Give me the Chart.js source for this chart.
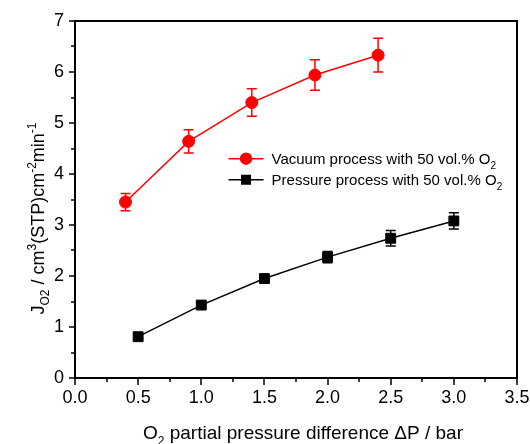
<!DOCTYPE html>
<html><head><meta charset="utf-8">
<script src="https://cdn.jsdelivr.net/npm/chart.js@4/dist/chart.umd.min.js"></script>
<style>html,body{margin:0;padding:0;background:#fff}</style>
</head><body>
<canvas id="c" width="530" height="444"></canvas>
<script>
// ---- data ----
const vacuumX = [0.4, 0.9, 1.4, 1.9, 2.4];
const vacuumY = [3.45, 4.64, 5.40, 5.94, 6.33];
const vacuumErr = [0.17, 0.23, 0.27, 0.30, 0.33];
const pressureX = [0.5, 1.0, 1.5, 2.0, 2.5, 3.0];
const pressureY = [0.81, 1.43, 1.95, 2.37, 2.74, 3.08];
const pressureErr = [0.05, 0.06, 0.07, 0.11, 0.15, 0.16];
const xTickValues = [0, 0.5, 1.0, 1.5, 2.0, 2.5, 3.0, 3.5];
const xTickLabels = ['0.0', '0.5', '1.0', '1.5', '2.0', '2.5', '3.0', '3.5'];
const yTickValues = [0, 1, 2, 3, 4, 5, 6, 7];
const yTickLabels = ['0', '1', '2', '3', '4', '5', '6', '7'];
const seriesNames = [
  [{t:'Vacuum process with 50 vol.% O'},{t:'2',s:'sub'}],
  [{t:'Pressure process with 50 vol.% O'},{t:'2',s:'sub'}]
];
const xTitle = [{t:'O'},{t:'2',s:'sub'},{t:' partial pressure difference \u0394P / bar'}];
const yTitle = [{t:'J'},{t:'O2',s:'sub'},{t:' / cm'},{t:'3',s:'sup'},{t:'(STP)cm'},{t:'-2',s:'sup'},{t:'min'},{t:'-1',s:'sup'}];

const FONT = '"Liberation Sans", Arial, sans-serif';

function richWidth(ctx, parts, size) {
  let w = 0;
  for (const p of parts) {
    ctx.font = (p.s ? Math.round(size*0.65) : size) + 'px ' + FONT;
    w += ctx.measureText(p.t).width;
  }
  return w;
}
function richDraw(ctx, parts, x, y, size) {
  let cx = x;
  ctx.textBaseline = 'alphabetic';
  ctx.textAlign = 'left';
  for (const p of parts) {
    const fs = p.s ? Math.round(size*0.65) : size;
    ctx.font = fs + 'px ' + FONT;
    let dy = 0;
    if (p.s === 'sub') dy = size*0.3;
    if (p.s === 'sup') dy = -size*0.42;
    ctx.fillText(p.t, cx, y + dy);
    cx += ctx.measureText(p.t).width;
  }
}

const errorBars = {
  id: 'errorBars',
  beforeDatasetsDraw(chart) {
    const ctx = chart.ctx, xs = chart.scales.x, ys = chart.scales.y;
    const errs = [vacuumErr, pressureErr];
    chart.data.datasets.forEach((ds, di) => {
      ctx.save();
      ctx.strokeStyle = ds.borderColor;
      ctx.lineWidth = 1.5;
      ds.data.forEach((pt, i) => {
        const e = errs[di][i];
        const px = xs.getPixelForValue(pt.x);
        const top = ys.getPixelForValue(pt.y + e);
        const bot = ys.getPixelForValue(pt.y - e);
        ctx.beginPath();
        ctx.moveTo(px, top); ctx.lineTo(px, bot);
        ctx.moveTo(px - 5, top); ctx.lineTo(px + 5, top);
        ctx.moveTo(px - 5, bot); ctx.lineTo(px + 5, bot);
        ctx.stroke();
      });
      ctx.restore();
    });
  }
};

const frame = {
  id: 'frame',
  afterDraw(chart) {
    const ctx = chart.ctx, a = chart.chartArea, xs = chart.scales.x, ys = chart.scales.y;
    ctx.save();
    ctx.strokeStyle = '#000';
    ctx.lineWidth = 2;
    ctx.strokeRect(a.left, a.top, a.right - a.left, a.bottom - a.top);
    ctx.lineWidth = 1.5;
    ctx.beginPath();
    for (let v = 0; v <= 3.5001; v += 0.25) {
      const px = Math.round(xs.getPixelForValue(v));
      const major = Math.abs(v*2 - Math.round(v*2)) < 1e-6;
      ctx.moveTo(px, a.bottom); ctx.lineTo(px, a.bottom + (major ? 7 : 4));
    }
    for (let v = 0; v <= 7.0001; v += 0.5) {
      const py = Math.round(ys.getPixelForValue(v));
      const major = Math.abs(v - Math.round(v)) < 1e-6;
      ctx.moveTo(a.left, py); ctx.lineTo(a.left - (major ? 6 : 4), py);
    }
    ctx.stroke();

    // axis titles
    ctx.fillStyle = '#000';
    const xsz = 19;
    const xw = richWidth(ctx, xTitle, xsz);
    richDraw(ctx, xTitle, (a.left + a.right)/2 - xw/2 + 7, a.bottom + 61, xsz);
    const ysz = 18;
    const yw = richWidth(ctx, yTitle, ysz);
    ctx.translate(a.left - 31, (a.top + a.bottom)/2 + 19);
    ctx.rotate(-Math.PI/2);
    richDraw(ctx, yTitle, -yw/2, 0, ysz);
    ctx.restore();

    // legend
    ctx.save();
    const lx = xs.getPixelForValue(1.2) + 2, ly0 = ys.getPixelForValue(4.3);
    chart.data.datasets.forEach((ds, i) => {
      const ly = ly0 + i * 21;
      ctx.strokeStyle = ds.borderColor; ctx.fillStyle = ds.backgroundColor;
      ctx.lineWidth = 1.5;
      ctx.beginPath(); ctx.moveTo(lx, ly); ctx.lineTo(lx + 35, ly); ctx.stroke();
      Chart.helpers.drawPoint(ctx, {pointStyle: ds.pointStyle, radius: ds.pointStyle === 'rect' ? 6 : 5.5, borderWidth: 1}, lx + 17.5, ly);
      ctx.fillStyle = '#000';
      richDraw(ctx, seriesNames[i], lx + 43, ly + 5.5, 15);
    });
    ctx.restore();
  }
};

new Chart(document.getElementById('c'), {
  type: 'line',
  data: {
    datasets: [
      { label: 'Vacuum process with 50 vol.% O2',
        data: vacuumX.map((x, i) => ({x, y: vacuumY[i]})),
        borderColor: '#ff0000', backgroundColor: '#ff0000',
        pointStyle: 'circle', pointRadius: 6, borderWidth: 1.5, pointBorderWidth: 1 },
      { label: 'Pressure process with 50 vol.% O2',
        data: pressureX.map((x, i) => ({x, y: pressureY[i]})),
        borderColor: '#000000', backgroundColor: '#000000',
        pointStyle: 'rect', pointRadius: 7, borderWidth: 1.5, pointBorderWidth: 1 }
    ]
  },
  options: {
    responsive: false, animation: false, devicePixelRatio: 1,
    layout: { padding: { left: 0, top: 21, right: 13, bottom: 0 } },
    plugins: { legend: { display: false }, tooltip: { enabled: false } },
    scales: {
      x: {
        type: 'linear', min: 0, max: 3.5,
        grid: { display: false, drawTicks: false }, border: { display: false },
        afterBuildTicks: s => { s.ticks = xTickValues.map(v => ({value: v})); },
        afterFit: s => { s.height = 66; s.paddingLeft = 0; s.paddingRight = 0; },
        ticks: { color: '#000', padding: 9, maxRotation: 0, font: { family: FONT, size: 18 },
          callback: (v) => xTickLabels[xTickValues.indexOf(v)] }
      },
      y: {
        type: 'linear', min: 0, max: 7,
        grid: { display: false, drawTicks: false }, border: { display: false },
        afterBuildTicks: s => { s.ticks = yTickValues.map(v => ({value: v})); },
        afterFit: s => { s.width = 75; s.paddingTop = 0; s.paddingBottom = 0; },
        ticks: { color: '#000', padding: 11, font: { family: FONT, size: 18 },
          callback: (v) => yTickLabels[yTickValues.indexOf(v)] }
      }
    }
  },
  plugins: [errorBars, frame]
});
</script>
</body></html>
